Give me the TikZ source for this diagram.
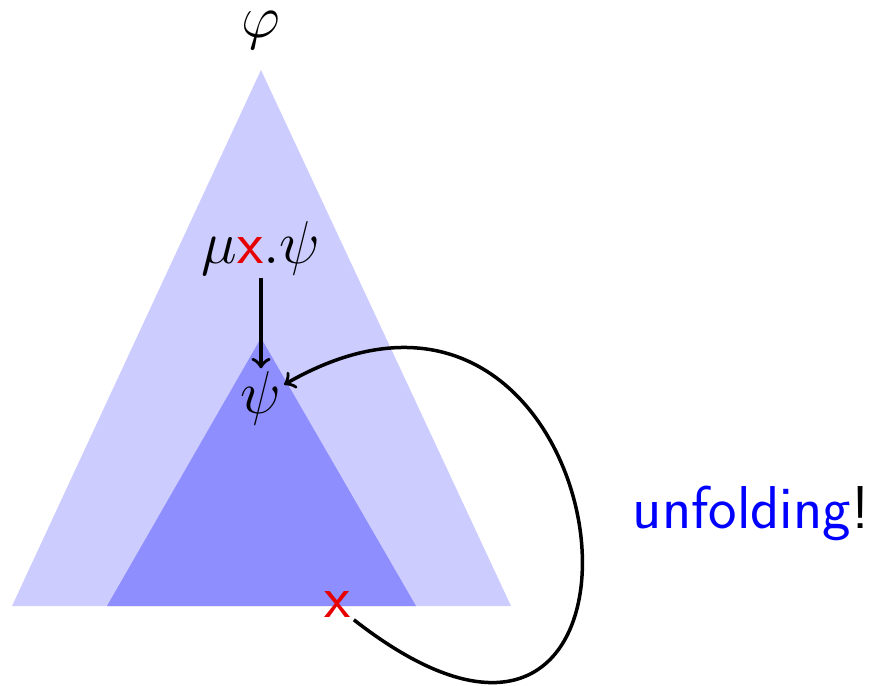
\documentclass[tikz,border=0pt]{standalone}
\usetikzlibrary{arrows}
\definecolor{outerfill}{RGB}{204,204,255}
\definecolor{innerfill}{RGB}{142,142,255}
\definecolor{xred}{RGB}{230,0,0}
\tikzset{
  lbl/.style={inner sep=0.8pt, outer sep=0pt, font=\LARGE},
  conn/.style={->, line width=1pt},
  redx/.style={lbl, text=xred, font=\LARGE\sffamily},
}
\begin{document}
\begin{tikzpicture}[x=0.2857pt,y=0.2857pt]
\useasboundingbox (0,0) rectangle (873,685);
\fill[outerfill] (261,615) -- (12,79) -- (511,79) -- cycle;
\fill[innerfill] (261,347) -- (107,79) -- (416,79) -- cycle;
\node[lbl] (phi) at (261,655) {$\varphi$};
\node[lbl] (mu) at (261,437) {$\mu\textcolor{xred}{\textsf{x}}.\psi$};
\node[lbl] (psi) at (261,287) {$\psi$};
\node[redx] (x) at (338,81) {x};
\node[lbl, font=\LARGE\sffamily] (unf) at (751,172) {\textcolor{blue}{unfolding}!};
\draw[conn] (mu) -- (psi);
\draw[conn] (x.south east) .. controls +(347,-271) and +(348,200) .. (psi.30);
\end{tikzpicture}
\end{document}
